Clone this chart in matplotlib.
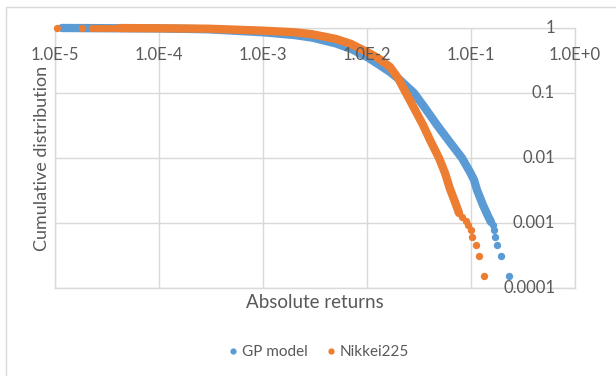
import matplotlib
matplotlib.use("Agg")
import matplotlib.pyplot as plt
from matplotlib.lines import Line2D
from matplotlib.patches import Rectangle

plt.rcParams['font.family'] = ['Lato', 'DejaVu Sans']

# ---------------- data ----------------
# GP model: dense band of points
gp_band_x = [1.17e-5, 1e-4, 3e-4, 1e-3, 2e-3, 3e-3, 5e-3, 7e-3, 0.0100, 0.01276,
             0.01664, 0.02075, 0.02831, 0.03611, 0.04710, 0.06138, 0.0819, 0.0978,
             0.1069, 0.1142, 0.1304, 0.1457, 0.1556]
gp_band_y = [1.0, 0.985, 0.955, 0.86, 0.78, 0.71, 0.58, 0.48, 0.358, 0.2793,
             0.2104, 0.1585, 0.100, 0.0588, 0.0322, 0.01827, 0.0100, 0.00609,
             0.00459, 0.00322, 0.00189, 0.00128, 0.001036]
# GP model: isolated tail points
gp_tail_x = [0.1627, 0.1664, 0.1702, 0.1778, 0.1943, 0.2317]
gp_tail_y = [0.000923, 0.000769, 0.000615, 0.000462, 0.000308, 0.000154]

# Nikkei225: isolated small-return points
nk_head_x = [1.045e-5, 1.82e-5, 2.27e-5, 2.48e-5, 2.71e-5, 2.96e-5, 3.23e-5, 3.53e-5, 3.86e-5]
nk_head_y = [1.0, 1.0, 1.0, 1.0, 1.0, 1.0, 1.0, 1.0, 1.0]
# Nikkei225: dense band of points
nk_band_x = [4.22e-5, 1e-4, 3e-4, 1e-3, 2e-3, 3e-3, 5e-3, 7e-3, 0.0100, 0.01276,
             0.01664, 0.01986, 0.02371, 0.02831, 0.03455, 0.04036, 0.04923,
             0.05623, 0.06281, 0.07017, 0.07665]
nk_band_y = [0.998, 0.99, 0.975, 0.91, 0.86, 0.80, 0.68, 0.57, 0.427, 0.3455,
             0.2512, 0.1701, 0.100, 0.0588, 0.0322, 0.01892, 0.0100,
             0.00588, 0.00334, 0.002104, 0.001425]
# Nikkei225: isolated tail points
nk_tail_x = [0.0819, 0.0895, 0.0935, 0.100, 0.1022, 0.1117, 0.1194, 0.1334]
nk_tail_y = [0.001231, 0.001077, 0.000923, 0.000769, 0.000615, 0.000462, 0.000308, 0.000154]

x_ticks = [1e-5, 1e-4, 1e-3, 1e-2, 1e-1, 1e0]
x_tick_labels = ["1.0E-5", "1.0E-4", "1.0E-3", "1.0E-2", "1.0E-1", "1.0E+0"]
y_ticks = [1, 0.1, 0.01, 0.001, 0.0001]
y_tick_labels = ["1", "0.1", "0.01", "0.001", "0.0001"]

series_names = ["GP model", "Nikkei225"]
BLUE = "#5B9BD5"
ORANGE = "#ED7D31"
TXT = "#595959"
GRID = "#D9D9D9"

W, H = 616, 376
fig = plt.figure(figsize=(W / 100, H / 100), dpi=100)
ax = fig.add_axes([55 / W, 1 - 288 / H, (575 - 55) / W, (288 - 28) / H])
ax.set_xscale("log")
ax.set_yscale("log")
ax.set_xlim(1e-5, 1)
ax.set_ylim(1e-4, 1)
ax.set_xticks(x_ticks)
ax.set_yticks(y_ticks)
ax.minorticks_off()
ax.tick_params(length=0, labelbottom=False, labelleft=False)
ax.grid(True, which="major", color=GRID, lw=1)
for s in ax.spines.values():
    s.set_color(GRID)
    s.set_linewidth(1)

LW = 6.0
MS = 5.3
line_kw = dict(solid_capstyle="round", solid_joinstyle="round", clip_on=False)
# GP model (drawn first, below)
ax.plot(gp_band_x, gp_band_y, "-", color=BLUE, lw=LW, zorder=3, **line_kw)
ax.plot(gp_tail_x, gp_tail_y, "o", color=BLUE, ms=MS, mew=0, zorder=3, clip_on=False)
# Nikkei225 (on top)
ax.plot(nk_head_x, nk_head_y, "o", color=ORANGE, ms=MS, mew=0, zorder=4, clip_on=False)
ax.plot(nk_band_x, nk_band_y, "-", color=ORANGE, lw=LW, zorder=4, **line_kw)
ax.plot(nk_tail_x, nk_tail_y, "o", color=ORANGE, ms=MS, mew=0, zorder=4, clip_on=False)

# tick labels (Excel style: x labels under the top axis line, y labels left of right edge)
for xv, lab in zip(x_ticks, x_tick_labels):
    ax.annotate(lab, xy=(xv, 1), xytext=(0, -27), textcoords="offset pixels",
                ha="center", va="center", fontsize=12, color=TXT, zorder=5,
                annotation_clip=False)
for yv, lab in zip(y_ticks, y_tick_labels):
    ax.annotate(lab, xy=(1, yv), xytext=(-20, 0), textcoords="offset pixels",
                ha="right", va="center", fontsize=12, color=TXT, zorder=5,
                annotation_clip=False)

fig.text(42 / W, 1 - 158 / H, "Cumulative distribution", rotation=90,
         ha="center", va="center", fontsize=13, color=TXT)
fig.text(315 / W, 1 - 303 / H, "Absolute returns", ha="center", va="center",
         fontsize=13.5, color=TXT)

handles = [Line2D([], [], ls="", marker="o", color=BLUE, ms=4.5, mew=0),
           Line2D([], [], ls="", marker="o", color=ORANGE, ms=4.5, mew=0)]
fig.legend(handles, series_names, loc="center", bbox_to_anchor=(317 / W, 1 - 352 / H),
           ncol=2, frameon=False, fontsize=11, labelcolor=TXT, handletextpad=0.1,
           columnspacing=1.0, handlelength=1.0)

fig.add_artist(Rectangle((6 / W, -0.1), 1.2, 1 - 7 / H + 0.1, transform=fig.transFigure,
                         fill=False, ec=GRID, lw=1))

fig.savefig("out.png", dpi=100, facecolor="white")
